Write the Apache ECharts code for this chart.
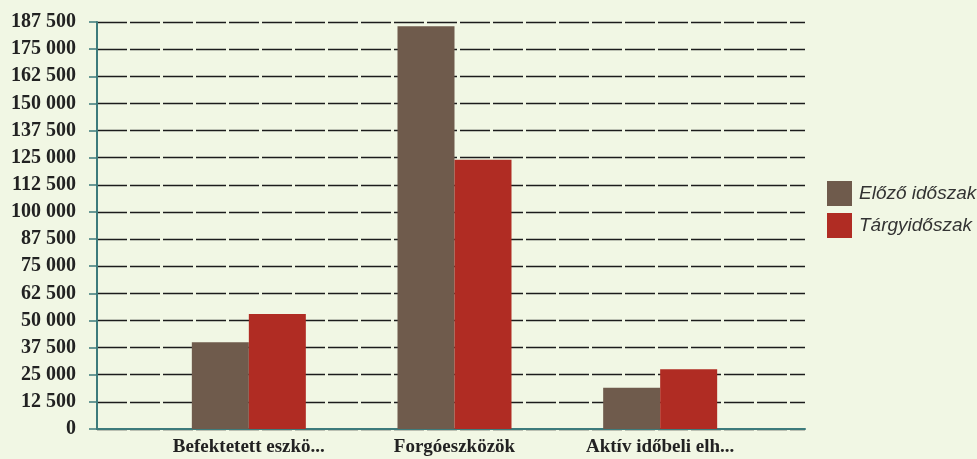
<!DOCTYPE html>
<html>
<head>
<meta charset="utf-8">
<script src="https://cdn.jsdelivr.net/npm/echarts@6/dist/echarts.min.js"></script>
<style>
  html, body { margin: 0; padding: 0; background: #f1f7e4; }
  #chart { width: 977px; height: 459px; }
</style>
</head>
<body>
<div id="chart"></div>
<script>
const categories = ["Befektetett eszkö...", "Forgóeszközök", "Aktív időbeli elh..."];
const previousPeriod = [40000, 185500, 19000];
const currentPeriod = [53000, 124000, 27500];
const seriesNames = ["Előző időszak", "Tárgyidőszak"];

const yMax = 187500;
const yStep = 12500;

const chart = echarts.init(document.getElementById("chart"));

const serifLabel = {
  fontFamily: "Liberation Serif",
  fontWeight: "bold",
  color: "#222",
};

chart.setOption({
  backgroundColor: "#f1f7e4",
  animation: false,
  legend: {
    orient: "vertical",
    left: 822,
    top: 176,
    itemWidth: 25,
    itemHeight: 25,
    itemGap: 7,
    icon: "rect",
    data: seriesNames,
    textStyle: {
      fontFamily: "Liberation Sans",
      fontStyle: "italic",
      fontSize: 19,
      color: "#333",
      padding: [0, 0, 0, 2],
    },
  },
  grid: [
    // background grid: full-width gridlines and axes
    { left: 97, right: 172, top: 22, bottom: 30 },
    // bar grid: categories sit inside the plot
    { left: 146, right: 214, top: 22, bottom: 30 },
  ],
  xAxis: [
    {
      gridIndex: 0,
      type: "category",
      data: [""],
      axisLine: { lineStyle: { color: "#3d7b7b", width: 2 } },
      axisTick: { show: false },
      axisLabel: { show: false },
    },
    {
      gridIndex: 1,
      type: "category",
      data: categories,
      axisLine: { show: false },
      axisTick: { show: false },
      axisLabel: { ...serifLabel, fontSize: 19, margin: 9 },
    },
  ],
  yAxis: [
    {
      gridIndex: 0,
      type: "value",
      min: 0,
      max: yMax,
      interval: yStep,
      axisLine: { show: true, lineStyle: { color: "#3d7b7b", width: 2 } },
      axisTick: { show: true, length: 8, lineStyle: { color: "#3d7b7b", width: 1.5 } },
      axisLabel: {
        ...serifLabel,
        fontSize: 20,
        margin: 21,
        formatter: (v) => String(v).replace(/\B(?=(\d{3})+(?!\d))/g, " "),
      },
      splitLine: {
        lineStyle: { color: "#1c1c1c", width: 1.3, type: [30, 3] },
      },
    },
    {
      gridIndex: 1,
      type: "value",
      min: 0,
      max: yMax,
      interval: yStep,
      show: false,
      splitLine: { show: false },
    },
  ],
  series: [
    {
      name: seriesNames[0],
      type: "bar",
      xAxisIndex: 1,
      yAxisIndex: 1,
      data: previousPeriod,
      barWidth: 57,
      barGap: "0%",
      itemStyle: { color: "#6f5b4c" },
    },
    {
      name: seriesNames[1],
      type: "bar",
      xAxisIndex: 1,
      yAxisIndex: 1,
      data: currentPeriod,
      barWidth: 57,
      barGap: "0%",
      itemStyle: { color: "#b02c23" },
    },
  ],
});
</script>
</body>
</html>
